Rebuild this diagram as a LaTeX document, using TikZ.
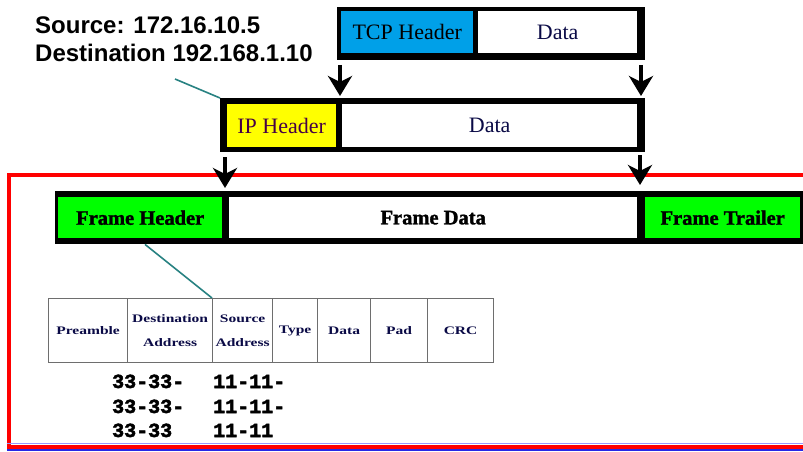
\documentclass[tikz,border=0pt]{standalone}
\usepackage{fontspec}
\setmainfont{Liberation Serif}
\newfontfamily\labsans{Liberation Sans}
\newfontfamily\widefont[FakeStretch=1.35]{Liberation Serif}
\newfontfamily\numfont[FakeBold=2.5]{Liberation Mono}
\newfontfamily\heavyserif[FakeBold=1.5]{Liberation Serif}
\usetikzlibrary{arrows.meta}
\definecolor{tcpblue}{RGB}{0,160,232}
\definecolor{framegreen}{RGB}{0,255,0}
\definecolor{ipyellow}{RGB}{255,255,0}
\definecolor{framered}{RGB}{255,0,0}
\definecolor{lineblue}{RGB}{40,40,230}
\definecolor{paleblue}{RGB}{150,150,255}
\definecolor{pointercol}{RGB}{40,130,130}
\definecolor{navytext}{RGB}{10,10,70}
\definecolor{iptext}{RGB}{70,0,70}
\definecolor{gridgray}{RGB}{110,110,110}
\begin{document}
\begin{tikzpicture}[x=1pt,y=-1pt,
  blk/.style={fill=black, draw=none, inner sep=0pt, anchor=north west},
  cellbox/.style={draw=none, inner sep=0pt, anchor=north west},
  boxlabel/.style={font={\fontsize{22}{26}\selectfont}},
  framelabel/.style={font={\heavyserif\bfseries\fontsize{20.5}{24}\selectfont}},
  tcell/.style={draw=gridgray, line width=1.2pt, inner sep=0pt, anchor=north west,
    minimum height=64pt, align=center, text=navytext,
    font={\widefont\bfseries\fontsize{11.5}{24}\selectfont}},
  addr/.style={anchor=base west, inner sep=0pt, font={\numfont\bfseries\fontsize{20}{24}\selectfont}},
  arr/.style={line width=3.5pt, -{Stealth[length=20pt,width=24pt,inset=6pt]}, shorten >=2pt},
  pointer/.style={pointercol, line width=1.6pt}]
\useasboundingbox (0,0) rectangle (803,452);
\fill[white] (0,0) rectangle (803,452);

% source / destination text
\node[anchor=base west, inner sep=0pt, font={\labsans\bfseries\fontsize{24}{28}\selectfont}] (srcA) at (35,34) {Source: 172.16.10.5};
\node[anchor=base west, inner sep=0pt, font={\labsans\bfseries\fontsize{24}{28}\selectfont}] (srcB) at (35,62) {Destination 192.168.1.10};

% TCP segment
\node[blk, minimum width=308pt, minimum height=53pt] (tcpbox) at (337,7) {};
\node[cellbox, fill=tcpblue, minimum width=132pt, minimum height=42pt, boxlabel] (tcph) at (341,11) {TCP Header};
\node[cellbox, fill=white, minimum width=159pt, minimum height=42pt, boxlabel, text=navytext] (tcpd) at (478,11) {Data};

% IP packet
\node[blk, minimum width=425pt, minimum height=54pt] (ipbox) at (220,98) {};
\node[cellbox, fill=ipyellow, minimum width=109pt, minimum height=43pt, boxlabel, text=iptext] (iph) at (227,104) {IP Header};
\node[cellbox, fill=white, minimum width=295pt, minimum height=43pt, boxlabel, text=navytext] (ipd) at (342,104) {Data};

% red frame outline
\draw[framered, line width=4pt] (806,175) -- (8.5,175) -- (8.5,446.5) -- (806,446.5);
\draw[paleblue, line width=1.2pt] (7,443.5) -- (806,443.5);
\draw[lineblue, line width=2pt] (7,449.5) -- (806,449.5);

% Frame
\node[blk, minimum width=748pt, minimum height=53pt] (frbox) at (55,191) {};
\node[cellbox, fill=framegreen, minimum width=164pt, minimum height=41pt, framelabel] (frh) at (58,197) {Frame Header};
\node[cellbox, fill=white, minimum width=408pt, minimum height=41pt, framelabel] (frd) at (229,197) {Frame Data};
\node[cellbox, fill=framegreen, minimum width=155pt, minimum height=41pt, framelabel] (frt) at (645,197) {Frame Trailer};

% arrows
\coordinate (a1) at (340,65);
\coordinate (a2) at (641,65);
\coordinate (a3) at (225,157);
\coordinate (a4) at (640,155);
\draw[arr] (a1) -- (a1 |- ipbox.north);
\draw[arr] (a2) -- (a2 |- ipbox.north);
\draw[arr, shorten >=3pt] (a3) -- (a3 |- frbox.north);
\draw[arr, shorten >=6pt] (a4) -- (a4 |- frbox.north);

% Ethernet frame table
\node[tcell, minimum width=79pt] (tpre) at (48,298) {Preamble};
\node[tcell, minimum width=85pt] (tdst) at (127,298) {Destination\\Address};
\node[tcell, minimum width=60pt] (tsrc) at (212,298) {Source\\Address};
\node[tcell, minimum width=45pt] (ttyp) at (272,298) {Type};
\node[tcell, minimum width=53pt] (tdat) at (317,298) {Data};
\node[tcell, minimum width=57pt] (tpad) at (370,298) {Pad};
\node[tcell, minimum width=66pt] (tcrc) at (427,298) {CRC};

% addresses
\node[addr] (d1) at (112,388) {33-33-};
\node[addr] (d2) at (112,413) {33-33-};
\node[addr] (d3) at (112,437) {33-33};
\node[addr] (s1) at (213,388) {11-11-};
\node[addr] (s2) at (213,413) {11-11-};
\node[addr] (s3) at (213,437) {11-11};

% pointer lines
\coordinate (c1) at (175,79);
\draw[pointer] (c1) -- (ipbox.north west);
\draw[pointer] ([xshift=90pt]frbox.south west) -- (tsrc.north west);
\end{tikzpicture}
\end{document}
